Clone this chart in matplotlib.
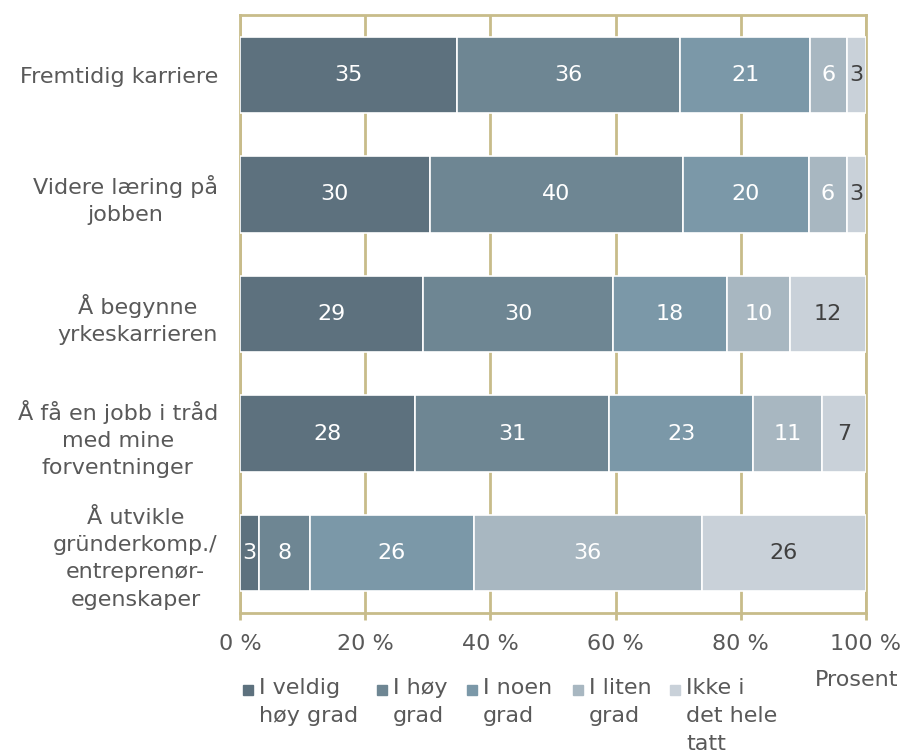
import matplotlib
matplotlib.use("Agg")
import matplotlib.pyplot as plt
from matplotlib.patches import Rectangle
import numpy as np

# data
categories = [
    "Fremtidig karriere",
    "Videre læring på\njobben",
    "Å begynne\nyrkeskarrieren",
    "Å få en jobb i tråd\nmed mine\nforventninger",
    "Å utvikle\ngründerkomp./\nentreprenør-\negenskaper",
]
series_names = ["I veldig\nhøy grad", "I høy\ngrad", "I noen\ngrad", "I liten\ngrad", "Ikke i\ndet hele\ntatt"]
veldig_hoy = [35, 30, 29, 28, 3]
hoy = [36, 40, 30, 31, 8]
noen = [21, 20, 18, 23, 26]
liten = [6, 6, 10, 11, 36]
ikke = [3, 3, 12, 7, 26]
xticks = [0, 20, 40, 60, 80, 100]
xtick_labels = ["0 %", "20 %", "40 %", "60 %", "80 %", "100 %"]

colors = ["#5d717e", "#6e8693", "#7b98a8", "#a8b7c1", "#c9d1d9"]
label_colors = ["white", "white", "white", "white", "#404040"]
gold = "#c8bc8a"
text_grey = "#595959"
FS = 16

values = np.array([veldig_hoy, hoy, noen, liten, ikke], dtype=float)
shares = values / values.sum(axis=0) * 100

fig = plt.figure(figsize=(9.04, 7.54), dpi=100)
ax = fig.add_axes([240 / 904, 1 - 613 / 754, 626 / 904, 598 / 754])

y = np.arange(len(categories))
left = np.zeros(len(categories))
for i in range(len(series_names)):
    ax.barh(y, shares[i], left=left, height=0.64, color=colors[i],
            edgecolor="white", linewidth=1.2, zorder=3)
    for j in range(len(categories)):
        ax.text(left[j] + shares[i][j] / 2, y[j], f"{int(values[i][j])}",
                ha="center", va="center", fontsize=FS, color=label_colors[i], zorder=4)
    left += shares[i]

ax.set_xlim(0, 100)
ax.set_ylim(len(categories) - 0.5, -0.5)
ax.set_xticks(xticks)
ax.set_xticklabels(xtick_labels, fontsize=FS, color=text_grey)
ax.set_yticks(y)
ax.set_yticklabels(categories, fontsize=FS, color=text_grey,
                   multialignment="center", linespacing=1.45)
ax.tick_params(axis="y", length=0, pad=16)
ax.tick_params(axis="x", length=5, width=2, color=gold, pad=10)
ax.xaxis.grid(True, color=gold, linewidth=2, zorder=0)
ax.set_axisbelow(True)
for side in ["top", "bottom", "left", "right"]:
    ax.spines[side].set_color(gold)
    ax.spines[side].set_linewidth(2)

fig.text(898 / 904, 1 - 680 / 754, "Prosent", ha="right", va="center",
         fontsize=FS, color=text_grey)

# legend drawn by hand so the marker sits on the first line
marker_x = [243, 377, 467, 573, 670]
for i, name in enumerate(series_names):
    fig.patches.append(Rectangle((marker_x[i] / 904, 1 - 695 / 754), 10 / 904, 10 / 754,
                                 transform=fig.transFigure, color=colors[i]))
    fig.text((marker_x[i] + 16) / 904, 1 - 678 / 754, name, ha="left", va="top",
             fontsize=FS, color=text_grey, linespacing=1.5)

fig.savefig("out.png", dpi=100)
